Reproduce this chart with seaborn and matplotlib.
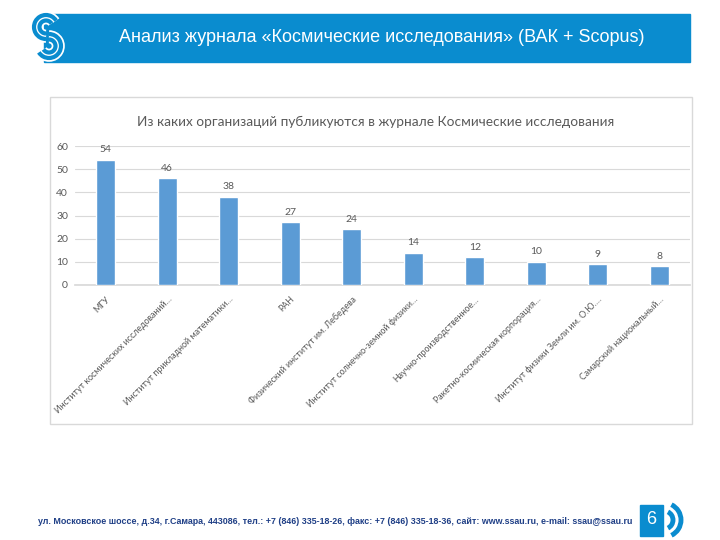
import matplotlib
matplotlib.use("Agg")
import matplotlib.pyplot as plt
import matplotlib.patches as mpatches
import pandas as pd
import seaborn as sns

# данные диаграммы
organizations = [
    "МГУ",
    "Институт космических исследований…",
    "Институт прикладной математики…",
    "РАН",
    "Физический институт им. Лебедева",
    "Институт солнечно-земной физики…",
    "Научно-производственное…",
    "Ракетно-космическая корпорация…",
    "Институт физики Земли им. О.Ю.…",
    "Самарский национальный…",
]
publications = [54, 46, 38, 27, 24, 14, 12, 10, 9, 8]
y_ticks = [0, 10, 20, 30, 40, 50, 60]

header_text = "Анализ журнала «Космические исследования» (ВАК + Scopus)"
chart_title = "Из каких организаций публикуются в журнале Космические исследования"
footer_text = ("ул. Московское шоссе, д.34, г.Самара, 443086, тел.: +7 (846) 335-18-26, "
               "факс: +7 (846) 335-18-36, сайт: www.ssau.ru, e-mail: ssau@ssau.ru")
page_no = "6"

sns.set_theme(style="white")
plt.rcParams["font.family"] = ["Liberation Sans", "DejaVu Sans"]

W, H = 720, 540
fig = plt.figure(figsize=(7.2, 5.4), dpi=100)
fig.patch.set_facecolor("white")


def px(x, y):
    return x / W, 1 - y / H


def arc(cx, cy, r, t1, t2, color, lw, z):
    x, y = px(cx, cy)
    fig.patches.append(mpatches.Arc((x, y), 2 * r / W, 2 * r / H, theta1=t1, theta2=t2,
                                    transform=fig.transFigure, color=color, lw=lw, zorder=z))


blue = "#0a8ccf"
gray_txt = "#595959"
chart_font = ["Lato", "DejaVu Sans"]

# шапка
x0, y0 = px(44, 62)
fig.patches.append(mpatches.Rectangle((x0, y0), (690 - 44) / W, 48 / H,
                                      transform=fig.transFigure, color=blue, zorder=1))
fig.text(*px(382, 38), header_text, color="white", fontsize=13,
         ha="center", va="center")

# логотип слева (упрощённо, буква S из дуг)
for r in (12, 6.5):
    arc(46, 27, r, 40, 270, "white", 5.5, 2)
    arc(46, 27, r, 40, 270, blue, 3.0, 3)
    arc(49, 46, r, -140, 90, "white", 5.5, 2)
    arc(49, 46, r, -140, 90, blue, 3.0, 3)

# рамка диаграммы
bx, by = px(50, 424)
fig.patches.append(mpatches.Rectangle((bx, by), (692 - 50) / W, (424 - 97) / H,
                                      transform=fig.transFigure, facecolor="white",
                                      edgecolor="#d9d9d9", lw=1.0, zorder=0))
fig.text(*px(376, 122), chart_title, color=gray_txt, fontsize=9.8,
         ha="center", va="center", family=chart_font)

# сама диаграмма
df = pd.DataFrame({"org": organizations, "n": publications})
ax = fig.add_axes([75 / W, 255 / H, (690 - 75) / W, (285 - 146) / H])
ax.set_zorder(5)
ax.set_facecolor("none")
sns.barplot(data=df, x="org", y="n", color="#5b9bd5", width=0.31,
            saturation=1, ax=ax, zorder=3)
ax.set_ylim(0, 60)
ax.set_yticks(y_ticks)
ax.grid(axis="y", color="#d9d9d9", lw=0.8, zorder=0)
ax.set_axisbelow(True)
for s in ["top", "right", "left"]:
    ax.spines[s].set_visible(False)
ax.spines["bottom"].set_color("#d9d9d9")
ax.set_xlabel("")
ax.set_ylabel("")
ax.tick_params(axis="y", length=0, labelsize=7.5, labelcolor=gray_txt, pad=5)
ax.tick_params(axis="x", length=0, labelsize=6.4, labelcolor=gray_txt, pad=7)
plt.setp(ax.get_xticklabels(), rotation=45, ha="right", rotation_mode="anchor",
         family=chart_font)
plt.setp(ax.get_yticklabels(), family=chart_font)
ax.bar_label(ax.containers[0], padding=4, fontsize=7.5, color=gray_txt,
             family=chart_font)

# подвал
fig.text(*px(38, 521), footer_text, color="#1f3f86", fontsize=6.4, fontweight="bold",
         ha="left", va="center", family=["Liberation Sans", "DejaVu Sans"])
fx, fy = px(640, 536)
fig.patches.append(mpatches.Rectangle((fx, fy), 23 / W, 31 / H,
                                      transform=fig.transFigure, color=blue, zorder=1))
fig.text(*px(651.5, 520), page_no, color="white", fontsize=13, ha="center", va="center")
for r in (9, 17):
    arc(664, 520, r, -70, 70, blue, 3.5, 2)

fig.savefig("out.png", dpi=100)
